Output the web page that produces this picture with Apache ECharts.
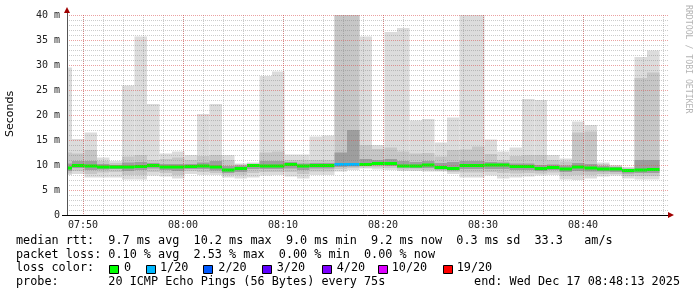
<!DOCTYPE html>
<html><head><meta charset="utf-8">
<script src="https://cdn.jsdelivr.net/npm/echarts@6/dist/echarts.min.js"></script>
<style>html,body{margin:0;padding:0;background:#fff}#c{width:697px;height:297px}</style>
</head><body><div id="c"></div>
<script>
// ---- data: ping rtt (ms) per 75 s step, 07:47:39 .. 08:47:39 ----
const stepMax    = [29.5,15.2,16.5,11.5,10.8,25.9,35.7,22.2,12.3,12.7, 12.0,20.2,22.2,12.0,10.3,10.5,27.8,28.7,12.1,12.1, 15.7,15.9,45,45,35.7,14.0,36.6,37.4,18.9,19.2, 14.5,19.5,45,45,15.1,12.7,13.5,23.2,23.0,12.0, 11.3,18.7,18.0,10.5,10.0,9.6,31.6,32.9];
const stepHi2    = [12.5,12.3,13.0,10.8,10.4,11.7,12.0,11.0,11.2,11.5, 11.0,11.8,12.0,11.0,10.1,10.3,12.5,12.7,11.0,11.0, 11.0,11.0,45,45,14.0,13.2,13.5,12.7,12.3,12.4, 11.7,13.0,13.1,13.7,12.2,11.0,11.8,12.0,12.0,11.0, 10.7,16.5,16.7,10.2,9.8,9.4,27.4,28.5];
const stepHi3    = [10.3,10.8,10.8,10.2,10.0,10.5,10.6,10.4,10.2,10.2, 10.2,10.5,10.8,9.8,9.9,10.2,10.8,10.8,10.6,10.3, 10.4,10.4,12.5,17.0,11.2,11.0,11.2,10.8,10.6,10.8, 10.4,10.6,10.8,10.8,10.6,10.5,10.3,10.3,10.0,10.1, 9.9,10.4,10.2,9.8,9.6,9.2,11.0,11.0];
const stepMedian = [9.4,9.9,9.8,9.6,9.6,9.6,9.7,9.9,9.6,9.6, 9.7,9.8,9.6,9.0,9.3,9.9,9.8,9.8,10.1,9.8, 9.9,9.9,10.1,10.1,10.1,10.3,10.3,9.8,9.8,10.0, 9.5,9.3,9.9,9.9,10.0,10.0,9.7,9.7,9.3,9.5, 9.2,9.6,9.4,9.2,9.2,8.9,9.0,9.1];
const stepLo3    = [8.8,9.4,9.0,9.1,9.2,8.8,9.0,9.3,9.0,8.8, 9.2,9.2,8.9,8.4,8.6,9.2,9.2,9.2,9.3,9.0, 9.3,9.3,9.6,9.7,9.8,9.9,9.8,9.5,9.4,9.4, 9.1,8.9,9.2,9.2,9.2,9.2,9.0,9.0,8.8,9.0, 8.6,8.8,8.7,8.7,8.6,8.3,8.4,8.4];
const stepLo2    = [8.3,8.8,8.2,8.5,8.6,8.0,8.0,8.6,8.4,8.0, 8.8,8.6,8.4,8.0,8.0,8.4,8.6,8.6,8.6,8.2, 8.7,8.7,9.2,9.4,9.5,9.5,9.4,9.1,9.1,9.0, 8.9,8.6,8.5,8.5,8.6,8.4,8.3,8.4,8.3,8.5, 7.9,8.0,8.0,8.2,8.2,7.8,7.8,7.8];
const stepMin    = [8.0,8.2,7.5,7.5,7.5,7.1,7.1,7.9,7.7,7.3, 8.2,8.0,8.0,7.5,7.3,7.5,7.9,8.0,7.7,7.3, 8.0,8.0,8.7,9.0,9.3,9.1,9.0,8.8,8.8,8.7, 8.7,8.2,7.5,7.5,7.9,7.3,7.5,7.7,7.9,8.0, 7.1,7.0,7.3,7.7,7.9,7.3,7.1,7.1];
const stepLoss   = [0,0,0,0,0,0,0,0,0,0, 0,0,0,0,0,0,0,0,0,0, 0,0,1,1,0,0,0,0,0,0, 0,0,0,0,0,0,0,0,0,0, 0,0,0,0,0,0,0,0];

const xTickLabels = ['07:50','08:00','08:10','08:20','08:30','08:40'];
const yTickValues = [0,5,10,15,20,25,30,35,40];
const lossLabels = ['0','1/20','2/20','3/20','4/20','10/20','19/20'];
const lossCounts = [0,1,2,3,4,10,19];
const lossColors = ['#00ff00','#00b8ff','#0059ff','#5e00ff','#7e00ff','#dd00ff','#ff0000'];
const summaryLines = [
  'median rtt:  9.7 ms avg  10.2 ms max  9.0 ms min  9.2 ms now  0.3 ms sd  33.3   am/s',
  'packet loss: 0.10 % avg  2.53 % max  0.00 % min  0.00 % now',
  'loss color:',
  'probe:       20 ICMP Echo Pings (56 Bytes) every 75s'
];
const endText = 'end: Wed Dec 17 08:48:13 2025';

// ---- time scale: seconds relative to 07:50:00 ----
const viewStart = -96;       // 07:48:24
const viewEnd = 3510;        // 08:48:30
const firstStepStart = -141; // 07:47:39
const stepSeconds = 75;
const majorInterval = 600, minorInterval = 120;
const starts = stepMax.map(function (_, i) { return firstStepStart + i * stepSeconds; });

function lossColor(n) {
  let c = lossColors[0];
  for (let i = 0; i < lossCounts.length; i++) if (n >= lossCounts[i]) c = lossColors[i];
  return c;
}
function rectRender(params, api, color) {
  const s = api.value(0), e = api.value(1), lo = api.value(2), hi = api.value(3);
  const p1 = api.coord([s, hi]), p2 = api.coord([e, lo]);
  const cs = params.coordSys;
  const r = echarts.graphic.clipRectByRect(
    { x: p1[0], y: p1[1], width: p2[0] - p1[0], height: p2[1] - p1[1] },
    { x: cs.x, y: cs.y, width: cs.width, height: cs.height });
  return r && { type: 'rect', shape: r, style: { fill: color } };
}
function band(name, lo, hi, color, z) {
  return {
    type: 'custom', name: name, silent: true, z: z, xAxisIndex: 0, yAxisIndex: 0,
    renderItem: function (params, api) { return rectRender(params, api, color); },
    encode: { x: [0, 1], y: [2, 3] },
    data: starts.map(function (s, i) { return [s, s + stepSeconds, lo[i], hi[i]]; })
  };
}

const chart = echarts.init(document.getElementById('c'), null, { renderer: 'canvas' });
const mono = 'DejaVu Sans Mono';
const plotRightPx = 29, plotTop = 15, plotBottom = 82, plotLeft = 67;
// pixel offsets of the helper grids, derived from the 6 s/px scale
const pxPerSec = (697 - plotRightPx - plotLeft) / (viewEnd - viewStart);
const majorLeft = plotLeft + (0 - viewStart) * pxPerSec;
const minorLeft = plotLeft + (-minorInterval - viewStart) * pxPerSec;

const graphics = [];
summaryLines.forEach(function (t, i) {
  graphics.push({ type: 'text', x: 16, y: 241 + i * 13.7, silent: true,
    style: { text: t, font: '11.8px "DejaVu Sans Mono"', fill: '#000', verticalAlign: 'middle', textAlign: 'left' } });
});
graphics.push({ type: 'text', x: 680, y: 241 + 3 * 13.7, silent: true,
  style: { text: endText, font: '11.8px "DejaVu Sans Mono"', fill: '#000', verticalAlign: 'middle', textAlign: 'right' } });
const legendBoxX = [108.7, 145.7, 202.7, 261.7, 322.3, 377.7, 442.7];
const legendTextX = [124, 160, 218.3, 276.7, 336.7, 391.7, 456.7];
lossLabels.forEach(function (l, i) {
  graphics.push({ type: 'rect', silent: true,
    shape: { x: Math.round(legendBoxX[i]) + 0.5, y: 265.5, width: 9, height: 8 },
    style: { fill: lossColors[i], stroke: '#000', lineWidth: 1 } });
  graphics.push({ type: 'text', x: legendTextX[i], y: 241 + 2 * 13.7, silent: true,
    style: { text: l, font: '11.8px "DejaVu Sans Mono"', fill: '#000', verticalAlign: 'middle', textAlign: 'left' } });
});
graphics.push({ type: 'text', x: 10.5, y: 114, rotation: Math.PI / 2, silent: true,
  style: { text: 'Seconds', font: '11px "DejaVu Sans"', fill: '#000', textAlign: 'center', verticalAlign: 'middle' } });
graphics.push({ type: 'text', x: 688, y: 5, rotation: -Math.PI / 2, silent: true,
  style: { text: 'RRDTOOL / TOBI OETIKER', font: '8.2px "DejaVu Sans Mono"', fill: '#b4b4b4', textAlign: 'left', verticalAlign: 'middle' } });
graphics.push({ type: 'polygon', silent: true, shape: { points: [[64, 13], [70, 13], [67, 7]] }, style: { fill: '#a00000' }, z: 20 });
graphics.push({ type: 'polygon', silent: true, shape: { points: [[668, 212], [668, 218], [674, 215]] }, style: { fill: '#a00000' }, z: 20 });
graphics.push({ type: 'line', silent: true, shape: { x1: 67.5, y1: 13, x2: 67.5, y2: 15 }, style: { stroke: '#555' }, z: 20 });
graphics.push({ type: 'line', silent: true, shape: { x1: 62, y1: 215.5, x2: 67, y2: 215.5 }, style: { stroke: '#000' }, z: 20 });

const redGrid = { color: 'rgba(215,70,70,0.5)', type: [1, 1], width: 1 };
const grayGrid = { color: 'rgba(120,120,120,0.38)', type: [1, 1], width: 1 };

chart.setOption({
  animation: false,
  backgroundColor: '#fff',
  grid: [
    { left: plotLeft, right: plotRightPx, top: plotTop, bottom: plotBottom },
    { left: majorLeft, right: plotRightPx, top: plotTop, bottom: plotBottom },
    { left: minorLeft, right: plotRightPx, top: plotTop, bottom: plotBottom }
  ],
  xAxis: [{
    gridIndex: 0, type: 'value', min: viewStart, max: viewEnd, z: 11,
    axisLine: { show: true, onZero: false, lineStyle: { color: '#000', width: 1 } },
    axisTick: { show: false }, axisLabel: { show: false }, splitLine: { show: false }
  }, {
    gridIndex: 1, type: 'value', min: 0, max: viewEnd, interval: majorInterval, z: 10,
    axisLine: { show: false }, axisTick: { show: false },
    axisLabel: { show: true, margin: 5, color: '#222', fontFamily: mono, fontSize: 10,
      showMaxLabel: false,
      formatter: function (v) { return xTickLabels[Math.round(v / majorInterval)] || ''; } },
    splitLine: { show: true, showMaxLine: false, lineStyle: redGrid }
  }, {
    gridIndex: 2, type: 'value', min: -minorInterval, max: viewEnd, interval: minorInterval, z: 9,
    axisLine: { show: false }, axisTick: { show: false }, axisLabel: { show: false },
    splitLine: { show: true, showMinLine: false, showMaxLine: false, lineStyle: grayGrid }
  }],
  yAxis: [{
    gridIndex: 0, type: 'value', min: 0, max: 40, interval: 5, z: 10,
    axisLine: { show: true, onZero: false, lineStyle: { color: '#555', width: 1 } },
    axisTick: { show: false },
    axisLabel: { margin: 7, color: '#222', fontFamily: mono, fontSize: 10,
      formatter: function (v) { return yTickValues.indexOf(v) < 0 ? '' : (v === 0 ? '0' : v + ' m'); } },
    splitLine: { show: true, lineStyle: redGrid },
    minorTick: { show: false, splitNumber: 5 },
    minorSplitLine: { show: true, lineStyle: grayGrid }
  }, {
    gridIndex: 1, type: 'value', min: 0, max: 40, show: false, splitLine: { show: false }
  }, {
    gridIndex: 2, type: 'value', min: 0, max: 40, show: false, splitLine: { show: false }
  }],
  series: [
    band('outer', stepMin, stepMax, '#dcdcdc', 2),
    band('mid', stepLo2, stepHi2, '#c6c6c6', 3),
    band('inner', stepLo3, stepHi3, '#9e9e9e', 4),
    {
      type: 'custom', name: 'median rtt', silent: true, z: 5, xAxisIndex: 0, yAxisIndex: 0,
      renderItem: function (params, api) {
        const s = api.value(0), e = api.value(1), m = api.value(2), loss = api.value(3);
        const p1 = api.coord([s, m]), p2 = api.coord([e, m]);
        const cs = params.coordSys;
        const r = echarts.graphic.clipRectByRect(
          { x: p1[0], y: p1[1] - 1.5, width: p2[0] - p1[0], height: 3 },
          { x: cs.x, y: cs.y, width: cs.width, height: cs.height });
        return r && { type: 'rect', shape: r, style: { fill: lossColor(loss) } };
      },
      encode: { x: [0, 1], y: 2 },
      data: starts.map(function (s, i) { return [s, s + stepSeconds, stepMedian[i], stepLoss[i]]; })
    }
  ],
  graphic: graphics
});
</script></body></html>
